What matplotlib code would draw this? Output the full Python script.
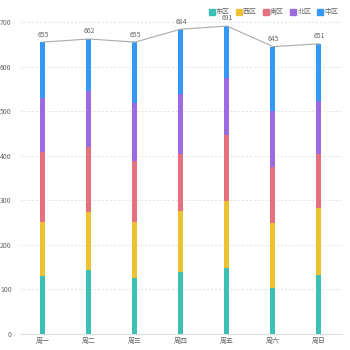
import matplotlib.pyplot as plt
import numpy as np
from matplotlib.lines import Line2D

plt.rcParams["font.family"] = ["Noto Sans CJK SC", "DejaVu Sans"]

days = ["周一", "周二", "周三", "周四", "周五", "周六", "周日"]
districts = ["东区", "西区", "南区", "北区", "中区"]
east = [131, 144, 125, 138, 149, 104, 132]
west = [120, 130, 127, 138, 149, 145, 151]
south = [157, 145, 136, 128, 149, 126, 121]
north = [122, 126, 130, 135, 128, 125, 119]
center = [125, 117, 137, 145, 116, 145, 128]
colors = ["#3cc0b5", "#edc232", "#e5707e", "#9c6be0", "#3399f5"]

series = [east, west, south, north, center]
totals = np.sum(series, axis=0)

fig = plt.figure(figsize=(3.5, 3.5), dpi=100)
ax = fig.add_axes([0.057, 0.046, 0.92, 0.891])

x = np.arange(len(days))
bottom = np.zeros(len(days))
for vals, c in zip(series, colors):
    ax.bar(x, vals, width=0.11, bottom=bottom, color=c, zorder=3)
    bottom += np.array(vals)

# total line with value labels
ax.plot(x, totals, color="#aaaaaa", lw=0.8, zorder=4)
for xi, t in zip(x, totals):
    ax.text(xi, t + 8, str(t), ha="center", va="bottom", fontsize=5, color="#666666")

ax.set_xlim(-0.5, len(days) - 0.5)
ax.set_ylim(0, 700)
ax.set_yticks(range(0, 701, 100))
ax.set_xticks(x)
ax.set_xticklabels(days)
ax.tick_params(axis="both", length=0, labelsize=5, colors="#666666")
ax.tick_params(axis="y", pad=6)
ax.tick_params(axis="x", pad=2)
ax.grid(axis="y", color="#e2e2e2", lw=0.7, ls=(0, (2, 2)), zorder=0)
for s in ["top", "right", "left"]:
    ax.spines[s].set_visible(False)
ax.spines["bottom"].set_color("#e0e0e0")
ax.spines["bottom"].set_linewidth(0.8)

handles = [Line2D([], [], marker="s", ls="", color=c, markersize=4) for c in colors]
fig.legend(handles, districts, loc="upper right", bbox_to_anchor=(0.985, 0.995),
           ncol=5, frameon=False, fontsize=5, handletextpad=0.1, columnspacing=0.8,
           labelcolor="#666666", handlelength=1.0)

fig.savefig("out.png", dpi=100)
